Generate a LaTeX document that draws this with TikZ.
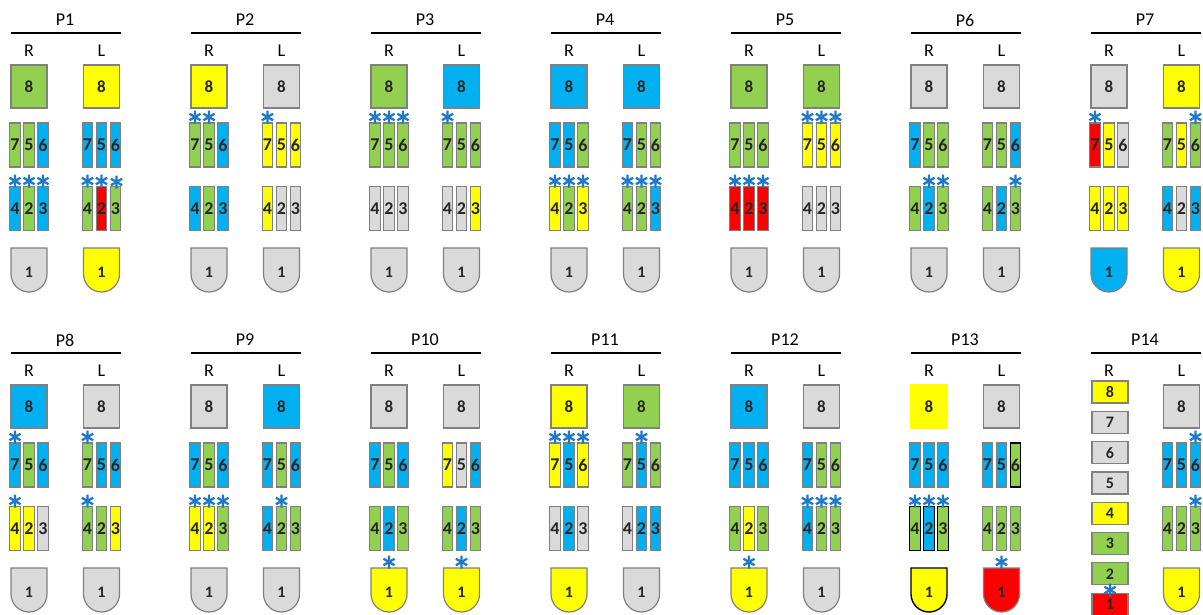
\documentclass[tikz,border=0pt]{standalone}
\usepackage{fontspec}
\setmainfont{Carlito}
\definecolor{cG}{HTML}{92D050}
\definecolor{cY}{HTML}{FFFF00}
\definecolor{cB}{HTML}{00B0F0}
\definecolor{cA}{HTML}{DADADA}
\definecolor{cD}{HTML}{FF0000}
\definecolor{edge}{HTML}{808080}
\definecolor{astc}{HTML}{1F78C8}
\definecolor{txt}{HTML}{262626}
\tikzset{
  fG/.style={fill=cG}, fY/.style={fill=cY}, fB/.style={fill=cB},
  fA/.style={fill=cA}, fD/.style={fill=cD},
  blk/.style={draw=black, line width=1.4pt},
  bigbox/.style={draw=edge, line width=1.2pt, minimum width=36pt, minimum height=43pt,
    inner sep=0pt, font=\fontsize{17}{17}\selectfont\bfseries, text=txt},
  smallbox/.style={draw=edge, line width=1.2pt, minimum width=36pt, minimum height=22pt,
    inner sep=0pt, font=\fontsize{16}{16}\selectfont\bfseries, text=txt},
  strip/.style={draw=edge, line width=1.1pt, minimum width=10.5pt, minimum height=44pt,
    inner sep=0pt, font=\fontsize{18}{18}\selectfont\bfseries, text=txt},
  shield/.style={draw=edge, line width=1.2pt},
  shieldtxt/.style={inner sep=0pt, font=\fontsize{16}{16}\selectfont\bfseries, text=txt},
  ptitle/.style={inner sep=0pt, font=\fontsize{18}{18}\selectfont, text=black},
  side/.style={inner sep=0pt, font=\fontsize{18}{18}\selectfont, text=black},
  headline/.style={draw=black, line width=1.8pt},
  astline/.style={draw=astc, line width=2.3pt}
}
% panel heading: #1 ox, #2 oy, #3 label, #4 name
\newcommand\panelhead[4]{%
  \node[ptitle] (#4-t) at ({#1+65},{#2+20}) {#3};
  \coordinate (#4-a) at ({#1+11},{#2+33});
  \coordinate (#4-b) at ({#1+121},{#2+33});
  \draw[headline] (#4-a) -- (#4-b);
  \node[side] (#4-R) at ({#1+29},{#2+50.5}) {R};
  \node[side] (#4-L) at ({#1+101.5},{#2+50.5}) {L};
}
% #1 cx, #2 oy, #3 name, #4 box 8, #5 #6 #7 strips 7 5 6
\newcommand\tophalf[7]{%
  \node[bigbox,#4] (#3-8) at ({#1},{#2+86.5}) {8};
  \node[strip,#5] (#3-7) at ({#1-14},{#2+145}) {7};
  \node[strip,#6] (#3-5) at ({#1},{#2+145}) {5};
  \node[strip,#7] (#3-6) at ({#1+14},{#2+145}) {6};
}
% #1 cx, #2 oy, #3 name, #4 #5 #6 strips 4 2 3, #7 shield 1
\newcommand\bothalf[7]{%
  \node[strip,#4] (#3-4) at ({#1-14},{#2+208.5}) {4};
  \node[strip,#5] (#3-2) at ({#1},{#2+208.5}) {2};
  \node[strip,#6] (#3-3) at ({#1+14},{#2+208.5}) {3};
  \draw[shield,#7] ({#1-18},{#2+248}) -- ({#1+18},{#2+248}) -- ({#1+18},{#2+274})
    .. controls ({#1+18},{#2+283.94}) and ({#1+9.94},{#2+292}) .. ({#1},{#2+292})
    .. controls ({#1-9.94},{#2+292}) and ({#1-18},{#2+283.94}) .. ({#1-18},{#2+274}) -- cycle;
  \node[shieldtxt] (#3-1) at ({#1},{#2+272}) {1};
}
\newcommand\astmark[2]{%
  \draw[astline] ({#1},{#2-6.5}) -- ({#1},{#2+6.5})
    ({#1-5.6},{#2-3.25}) -- ({#1+5.6},{#2+3.25})
    ({#1-5.6},{#2+3.25}) -- ({#1+5.6},{#2-3.25});
}
\begin{document}
\begin{tikzpicture}[x=1pt,y=-1pt]
\clip (0,0) rectangle (1203,614);
\fill[white] (0,0) rectangle (1203,614);
% ---------------- row 1 ----------------
% P1
\panelhead{0}{0}{P1}{p1}
\tophalf{29}{0}{p1r}{fG}{fG}{fG}{fB}
\bothalf{29}{0}{p1r}{fB}{fG}{fB}{fA}
\tophalf{101.5}{0}{p1l}{fY}{fB}{fB}{fB}
\bothalf{101.5}{0}{p1l}{fG}{fD}{fG}{fY}
\astmark{15}{181}\astmark{29}{181}\astmark{43}{181}
\astmark{87.5}{181}\astmark{101.5}{181}\astmark{116.5}{182}
% P2
\panelhead{180}{0}{P2}{p2}
\tophalf{209}{0}{p2r}{fY}{fG}{fG}{fB}
\bothalf{209}{0}{p2r}{fB}{fG}{fB}{fA}
\tophalf{281.5}{0}{p2l}{fA}{fY}{fY}{fY}
\bothalf{281.5}{0}{p2l}{fY}{fA}{fA}{fA}
\astmark{195}{117}\astmark{209}{117}
\astmark{267.5}{117}
% P3
\panelhead{360}{0}{P3}{p3}
\tophalf{389}{0}{p3r}{fG}{fG}{fG}{fG}
\bothalf{389}{0}{p3r}{fA}{fA}{fA}{fA}
\tophalf{461.5}{0}{p3l}{fB}{fG}{fG}{fG}
\bothalf{461.5}{0}{p3l}{fA}{fA}{fY}{fA}
\astmark{375}{117}\astmark{389}{117}\astmark{403}{117}
\astmark{447.5}{117}
% P4
\panelhead{540}{0}{P4}{p4}
\tophalf{569}{0}{p4r}{fB}{fB}{fB}{fG}
\bothalf{569}{0}{p4r}{fY}{fG}{fY}{fA}
\tophalf{641.5}{0}{p4l}{fB}{fB}{fG}{fG}
\bothalf{641.5}{0}{p4l}{fG}{fG}{fB}{fA}
\astmark{555}{181}\astmark{569}{181}\astmark{583}{181}
\astmark{627.5}{181}\astmark{641.5}{181}\astmark{655.5}{181}
% P5
\panelhead{720}{0}{P5}{p5}
\tophalf{749}{0}{p5r}{fG}{fG}{fG}{fG}
\bothalf{749}{0}{p5r}{fD}{fD}{fD}{fA}
\tophalf{821.5}{0}{p5l}{fG}{fY}{fY}{fY}
\bothalf{821.5}{0}{p5l}{fA}{fA}{fA}{fA}
\astmark{735}{181}\astmark{749}{181}\astmark{763}{181}
\astmark{807.5}{117}\astmark{821.5}{117}\astmark{835.5}{117}
% P6
\panelhead{900}{0}{P6}{p6}
\tophalf{929}{0}{p6r}{fA}{fB}{fG}{fG}
\bothalf{929}{0}{p6r}{fG}{fB}{fG}{fA}
\tophalf{1001.5}{0}{p6l}{fA}{fG}{fG}{fB}
\bothalf{1001.5}{0}{p6l}{fG}{fB}{fG}{fA}
\astmark{929}{181}\astmark{943}{181}
\astmark{1015.5}{181}
% P7
\panelhead{1080}{0}{P7}{p7}
\tophalf{1109}{0}{p7r}{fA}{fD}{fY}{fA}
\bothalf{1109}{0}{p7r}{fY}{fY}{fY}{fB}
\tophalf{1181.5}{0}{p7l}{fY}{fG}{fY}{fG}
\bothalf{1181.5}{0}{p7l}{fB}{fA}{fB}{fY}
\astmark{1095}{117}
\astmark{1195.5}{117}
% ---------------- row 2 ----------------
% P8
\panelhead{0}{320}{P8}{p8}
\tophalf{29}{320}{p8r}{fB}{fB}{fG}{fB}
\bothalf{29}{320}{p8r}{fY}{fY}{fA}{fA}
\tophalf{101.5}{320}{p8l}{fA}{fG}{fB}{fB}
\bothalf{101.5}{320}{p8l}{fG}{fG}{fY}{fA}
\astmark{15}{437}\astmark{15}{501}
\astmark{87.5}{437}\astmark{87.5}{501}
% P9
\panelhead{180}{320}{P9}{p9}
\tophalf{209}{320}{p9r}{fA}{fB}{fG}{fB}
\bothalf{209}{320}{p9r}{fY}{fY}{fG}{fA}
\tophalf{281.5}{320}{p9l}{fB}{fB}{fG}{fB}
\bothalf{281.5}{320}{p9l}{fB}{fG}{fG}{fA}
\astmark{195}{501}\astmark{209}{501}\astmark{223}{501}
\astmark{281.5}{501}
% P10
\panelhead{360}{320}{P10}{p10}
\tophalf{389}{320}{p10r}{fA}{fB}{fG}{fB}
\bothalf{389}{320}{p10r}{fG}{fB}{fG}{fY}
\tophalf{461.5}{320}{p10l}{fA}{fY}{fA}{fB}
\bothalf{461.5}{320}{p10l}{fG}{fB}{fG}{fY}
\astmark{389}{562}
\astmark{461.5}{562}
% P11
\panelhead{540}{320}{P11}{p11}
\tophalf{569}{320}{p11r}{fY}{fY}{fB}{fY}
\bothalf{569}{320}{p11r}{fA}{fB}{fA}{fY}
\tophalf{641.5}{320}{p11l}{fG}{fG}{fB}{fG}
\bothalf{641.5}{320}{p11l}{fA}{fB}{fB}{fA}
\astmark{555}{437}\astmark{569}{437}\astmark{583}{437}
\astmark{641.5}{437}
% P12
\panelhead{720}{320}{P12}{p12}
\tophalf{749}{320}{p12r}{fB}{fB}{fB}{fB}
\bothalf{749}{320}{p12r}{fG}{fY}{fG}{fY}
\tophalf{821.5}{320}{p12l}{fA}{fB}{fG}{fG}
\bothalf{821.5}{320}{p12l}{fB}{fG}{fG}{fA}
\astmark{749}{562}
\astmark{807.5}{501}\astmark{821.5}{501}\astmark{835.5}{501}
% P13
\panelhead{900}{320}{P13}{p13}
\tophalf{929}{320}{p13r}{fY,draw=cY}{fB}{fB}{fB}
\bothalf{929}{320}{p13r}{fG,blk}{fB,blk}{fG,blk}{fY,blk}
\tophalf{1001.5}{320}{p13l}{fA}{fB}{fB}{fG,blk}
\bothalf{1001.5}{320}{p13l}{fG}{fG}{fG}{fD}
\astmark{915}{501}\astmark{929}{501}\astmark{943}{501}
\astmark{1001.5}{562}
% P14
\panelhead{1080}{320}{P14}{p14}
\node[smallbox,fY] (p14r-8) at (1110,392) {8};
\node[smallbox,fA] (p14r-7) at (1110,422.3) {7};
\node[smallbox,fA] (p14r-6) at (1110,452.6) {6};
\node[smallbox,fA] (p14r-5) at (1110,482.9) {5};
\node[smallbox,fY] (p14r-4) at (1110,513.2) {4};
\node[smallbox,fG] (p14r-3) at (1110,543.5) {3};
\node[smallbox,fG] (p14r-2) at (1110,573.8) {2};
\node[smallbox,fD] (p14r-1) at (1110,604.1) {1};
\astmark{1110}{590}
\tophalf{1181.5}{320}{p14l}{fA}{fB}{fB}{fB}
\bothalf{1181.5}{320}{p14l}{fG}{fG}{fG}{fY}
\astmark{1195.5}{437}\astmark{1195.5}{501}
\end{tikzpicture}
\end{document}
